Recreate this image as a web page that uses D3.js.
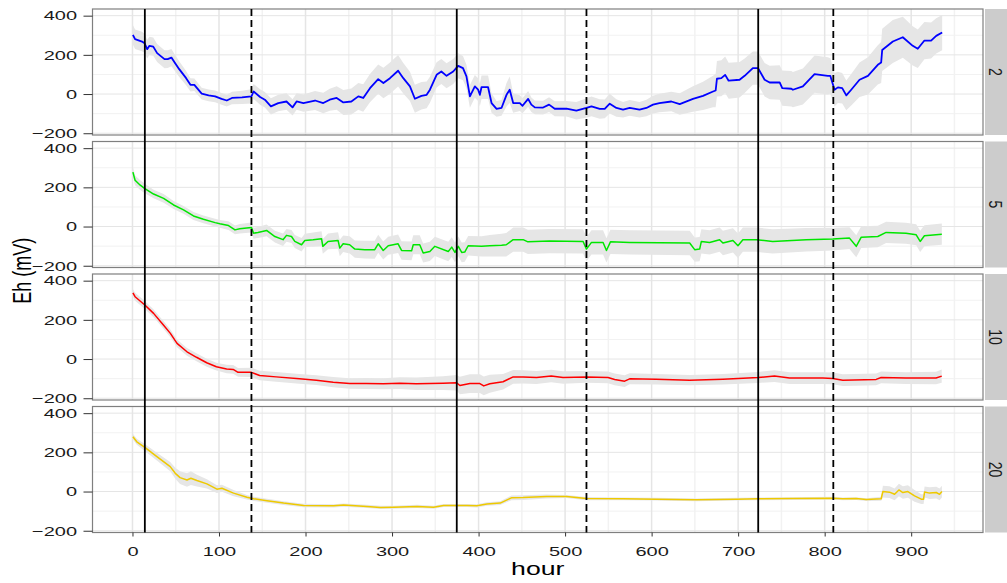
<!DOCTYPE html>
<html lang="en">
<head>
  <meta charset="UTF-8" />
  <title>Eh by depth</title>
  <script src="https://d3js.org/d3.v7.min.js"></script>
  <style>
    body { margin: 0; background: #ffffff; }
    svg { display: block; font-family: "Liberation Sans", Arial, sans-serif; }
  </style>
</head>
<body>
  <div id="chart"></div>
  <script>
    // facets (strip labels) and line colours
    const facets = ["2", "5", "10", "20"];
    const lineColors = ["#0000ff", "#00e600", "#ff0000", "#eec900"];

    // vertical event lines
    const vlineHours = [14.3, 137.5, 374.8, 524.7, 723.2, 810];
    const vlineTypes = ["solid", "dashed", "solid", "dashed", "solid", "dashed"];

    const xTicks = [0, 100, 200, 300, 400, 500, 600, 700, 800, 900];
    const xMinor = [50, 150, 250, 350, 450, 550, 650, 750, 850, 950];
    const yTicks = [-200, 0, 200, 400];
    const yMinor = [-100, 100, 300];

    // facet "2"
    const hours2 = [0.5,3,11,14,17,19.6,24,28.5,37,40.7,45,48,54,62,67,71.5,80,88,95.5,103,109,115,126.6,137.5,140,147.5,153,160,168.5,178,185,189.7,197.5,211,220.5,228,236,243.7,253,261,266.7,274.5,284,290,297.6,307,313,320.7,326.4,334,340,343.8,351.5,357,363,370.7,376.4,382,386,390,395.7,399.5,401.5,403.4,411,415,420.8,426.5,432.3,436,440,447.7,450.8,457.3,461,465,474.6,481.5,488,501.6,513,524.7,530.5,540,545.8,551.6,559.3,567,574.7,586,594,601.6,609,622.8,632.5,647.8,659.4,671,674,675.5,680.6,685,689,701.7,707.5,717,723,730.6,736.4,748,751,761.5,763.3,774.8,788.3,803.7,806.5,811.4,815.3,820.3,825,830.7,840.3,850,861.4,865.3,866.5,878.8,890.3,901.8,907.6,915.3,923,928.9,935.8];
    const eh2 = [302,280,268,259,229,246,242,209,178,178,186,166,127,81,47,47,2,-7,-12,-25,-33,-20,-17,-12,13,-15,-29,-63,-46,-38,-68,-38,-46,-33,-46,-29,-20,-43,-38,-12,-20,30,76,56,81,119,81,39,-24,-9,-4,22,98,115,93,115,144,132,90,-12,39,22,-4,35,35,-46,-76,-71,-4,22,-46,-46,-60,-25,-54,-68,-69,-54,-75,-75,-85,-71,-63,-76,-76,-49,-71,-80,-71,-80,-71,-54,-46,-38,-51,-25,-9,13,18,78,81,98,68,73,93,132,132,73,59,59,30,27,22,39,102,93,93,22,34,30,-7,22,73,93,149,161,225,268,290,246,231,273,273,297,314];
    const sd2 = [50,50,50,48,48,46,46,46,46,45,44,42,40,36,34,32,30,30,30,30,30,32,34,36,38,40,40,42,42,42,42,42,44,48,52,56,60,64,66,68,70,72,75,78,80,80,78,75,72,70,68,66,64,64,64,64,64,62,60,58,58,58,58,60,60,50,40,40,60,68,50,40,38,40,37,35,35,38,38,40,45,50,50,50,48,50,45,40,40,40,42,45,47,50,55,65,72,80,85,90,92,93,92,90,88,85,85,85,85,88,90,90,90,92,95,95,90,85,80,78,76,80,88,95,100,105,108,110,105,100,98,95,92,90,90];

    // facet "5"
    const hours5 = [0.5,3,9,14.3,24.4,36,47.5,59,70.5,82,95.5,101,111,118.5,124,137.5,140,145,155,164.6,174,178,183.8,187.6,195.4,199.2,208.8,218.5,220,226,237.6,239.6,243.5,251,257,268.6,280,284,289.8,295.6,307,311,322.6,324.5,332,336,343.7,349.5,365,369,372.7,376.6,380.5,384,388,403.5,413,426.6,432,440,451.5,457,482,520.8,524.7,530.5,543.9,547.8,552.4,574.7,644,649.8,655.5,657.5,667,678.6,682.4,694,699.8,705.5,721,740,778.8,809.5,828.7,836.5,842.3,861.4,871,894,905.8,910.4,915.3,935.4];
    const eh5 = [278,236,211,194,166,144,110,85,54,37,20,14,5,-17,-11,-5,-34,-30,-20,-51,-67,-45,-51,-76,-93,-71,-67,-62,-101,-76,-71,-110,-88,-93,-115,-118,-118,-88,-122,-98,-88,-122,-124,-93,-93,-135,-127,-101,-127,-105,-132,-101,-132,-130,-98,-101,-98,-95,-93,-67,-67,-78,-74,-76,-115,-81,-81,-122,-78,-81,-84,-118,-115,-76,-81,-67,-84,-71,-98,-67,-67,-76,-67,-64,-59,-101,-54,-51,-30,-34,-42,-76,-47,-39];
    const sd5 = [25,25,25,24,22,22,20,20,20,20,20,20,22,22,24,26,28,28,30,30,32,32,33,33,34,34,36,38,38,40,42,42,42,44,44,45,46,46,46,46,47,47,48,48,48,48,49,49,50,50,50,50,50,50,50,52,55,58,60,62,62,62,62,62,62,62,62,62,62,62,62,62,62,62,62,62,62,62,62,62,62,62,60,58,56,56,55,55,54,54,54,54,54,54];

    // facet "10"
    const hours10 = [0.5,3,14.3,24.4,36,43.8,51.5,63,74,85.8,97,108.8,116.4,122,137.5,147,166,193,212.5,232,251,270,290,309,328,359,374.6,378.4,390,401.5,406,413,428.3,440,451.5,467,484,497.6,524.6,549.6,557.3,568.8,574.6,605.4,643.9,682.4,723.2,742,759.4,797.9,809.4,821,859.5,865.3,894,928.7,935.3];
    const eh10 = [338,318,276,233,173,131,80,37,9,-19,-39,-51,-53,-68,-68,-84,-91,-101,-108,-118,-125,-125,-126,-123,-126,-123,-121,-135,-125,-125,-137,-126,-116,-91,-91,-94,-87,-94,-91,-94,-104,-113,-101,-103,-108,-103,-94,-87,-97,-97,-99,-108,-104,-94,-97,-97,-87];
    const sd10 = [20,20,20,20,20,20,20,20,20,20,20,22,22,22,24,24,25,25,25,26,27,28,28,30,32,35,40,45,48,48,48,46,40,35,34,33,32,32,30,30,30,30,28,27,26,27,28,30,30,30,30,30,30,30,30,32,34];

    // facet "20"
    const hours20 = [0.5,5,14.3,28.2,43.6,49.5,55,63,67.5,74.5,86,97.6,103.4,116.8,132.3,140,155.5,174.7,197.8,232.5,244,271,286.5,302,328.8,348,359.6,386.5,398,409.7,425,438,451.5,478.5,501.6,524.6,567,605.4,651.6,697.8,723.2,763.3,809.4,821,836.4,848,865.3,867.3,875,880.8,885.8,890.4,896.2,903.9,911.6,914.3,915.5,921.3,929,932.8,935.5];
    const eh20 = [280,254,225,178,127,93,71,59,68,56,39,12,17,-8,-29,-37,-47,-59,-71,-73,-69,-76,-81,-80,-76,-80,-71,-71,-73,-63,-59,-32,-31,-25,-25,-36,-37,-39,-42,-39,-37,-36,-34,-37,-36,-41,-37,0,-3,-14,8,-5,0,-22,-39,-39,-2,-8,-5,-14,0];
    const sd20 = [15,15,18,20,24,28,32,35,35,30,24,20,18,16,12,11,10,10,9,8,8,8,8,8,8,8,8,8,8,9,10,12,12,10,8,8,7,7,7,7,7,7,7,7,7,7,10,30,30,30,32,32,32,30,25,25,28,30,30,30,30];

    const seriesHours = [hours2, hours5, hours10, hours20];
    const seriesEh = [eh2, eh5, eh10, eh20];
    const seriesSd = [sd2, sd5, sd10, sd20];

    // layout
    const W = 1007, H = 583;
    const pLeft = 92.5, pRight = 983, pTop = 9, panelH = 126, gap = 6.5;
    const stripX = 985, stripW = 22;
    const stretch = 1.48;

    const svg = d3.select("#chart").append("svg")
      .attr("width", W).attr("height", H);

    const x = d3.scaleLinear().domain([-46.2, 983]).range([pLeft, pRight]);
    const pBottom = pTop + 4 * panelH + 3 * gap;

    const fmt = d => d < 0 ? "\u2212" + Math.abs(d) : String(d);

    facets.forEach((f, i) => {
      const py = pTop + i * (panelH + gap);
      const y = d3.scaleLinear().domain([-209, 434]).range([py + panelH, py]);
      const g = svg.append("g");

      g.append("rect")
        .attr("x", pLeft).attr("y", py)
        .attr("width", pRight - pLeft).attr("height", panelH)
        .attr("fill", "#ffffff");

      // minor grid
      g.selectAll(".vminor").data(xMinor.filter(v => x(v) < pRight)).enter().append("line")
        .attr("x1", d => x(d)).attr("x2", d => x(d))
        .attr("y1", py).attr("y2", py + panelH)
        .attr("stroke", "#f2f2f2").attr("stroke-width", 1.5);
      g.selectAll(".hminor").data(yMinor).enter().append("line")
        .attr("x1", pLeft).attr("x2", pRight)
        .attr("y1", d => y(d)).attr("y2", d => y(d))
        .attr("stroke", "#f2f2f2").attr("stroke-width", 1);
      // major grid
      g.selectAll(".vmajor").data(xTicks).enter().append("line")
        .attr("x1", d => x(d)).attr("x2", d => x(d))
        .attr("y1", py).attr("y2", py + panelH)
        .attr("stroke", "#e5e5e5").attr("stroke-width", 1.5);
      g.selectAll(".hmajor").data(yTicks).enter().append("line")
        .attr("x1", pLeft).attr("x2", pRight)
        .attr("y1", d => y(d)).attr("y2", d => y(d))
        .attr("stroke", "#e5e5e5").attr("stroke-width", 1);

      const pts = seriesHours[i].map((h, k) => ({ h: h, v: seriesEh[i][k], s: seriesSd[i][k] }));

      const area = d3.area()
        .x(d => x(d.h))
        .y0(d => y(d.v - d.s))
        .y1(d => y(d.v + d.s));
      g.append("path").datum(pts)
        .attr("d", area)
        .attr("fill", "#e6e6e6");

      const line = d3.line().x(d => x(d.h)).y(d => y(d.v));
      g.append("path").datum(pts)
        .attr("d", line)
        .attr("fill", "none")
        .attr("stroke", lineColors[i])
        .attr("stroke-width", i === 0 ? 1.8 : 1.5)
        .attr("stroke-linejoin", "round");

      g.append("rect")
        .attr("x", pLeft).attr("y", py)
        .attr("width", pRight - pLeft).attr("height", panelH)
        .attr("fill", "none").attr("stroke", "#7f7f7f").attr("stroke-width", 1.2);

      // strip
      g.append("rect")
        .attr("x", stripX).attr("y", py)
        .attr("width", stripW).attr("height", panelH)
        .attr("fill", "#cccccc");
      g.append("text")
        .attr("transform", `translate(${stripX + 10.5},${py + panelH / 2}) scale(1.35,1) rotate(90)`)
        .attr("text-anchor", "middle")
        .attr("dominant-baseline", "central")
        .style("font-size", "14px")
        .attr("fill", "#1a1a1a")
        .text(f);

      // y axis
      const ya = svg.append("g")
        .attr("transform", `translate(${pLeft},0)`)
        .call(d3.axisLeft(y).tickValues(yTicks).tickSize(9).tickFormat(fmt));
      ya.select(".domain").remove();
      ya.selectAll(".tick line").attr("stroke", "#333333");
      ya.selectAll(".tick text")
        .attr("x", -15.5 / stretch)
        .attr("transform", `scale(${stretch},1)`)
        .attr("fill", "#1a1a1a")
        .style("font-size", "13.5px")
        .style("font-family", "'Liberation Sans', Arial, sans-serif");
    });

    // vertical event lines across all panels
    svg.selectAll(".vline").data(vlineHours).enter().append("line")
      .attr("x1", d => x(d)).attr("x2", d => x(d))
      .attr("y1", pTop).attr("y2", pBottom)
      .attr("stroke", "#000000").attr("stroke-width", 1.8)
      .attr("stroke-dasharray", (d, k) => vlineTypes[k] === "dashed" ? "7,4" : null);

    // x axis
    const xa = svg.append("g")
      .attr("transform", `translate(0,${pBottom})`)
      .call(d3.axisBottom(x).tickValues(xTicks).tickSize(4).tickFormat(fmt));
    xa.select(".domain").remove();
    xa.selectAll(".tick line").attr("stroke", "#333333");
    xa.selectAll(".tick text")
      .attr("y", 23.5).attr("dy", null)
      .attr("transform", `scale(${stretch},1)`)
      .attr("fill", "#1a1a1a")
      .style("font-size", "13.5px")
      .style("font-family", "'Liberation Sans', Arial, sans-serif");

    // axis titles
    svg.append("text")
      .attr("transform", `translate(${(pLeft + pRight) / 2},575) scale(${stretch},1)`)
      .attr("text-anchor", "middle")
      .style("font-size", "18px")
      .text("hour");
    svg.append("text")
      .attr("transform", `translate(31,${(pTop + pBottom) / 2}) scale(${stretch},1) rotate(-90)`)
      .attr("text-anchor", "middle")
      .style("font-size", "18px")
      .text("Eh (mV)");
  </script>
</body>
</html>
